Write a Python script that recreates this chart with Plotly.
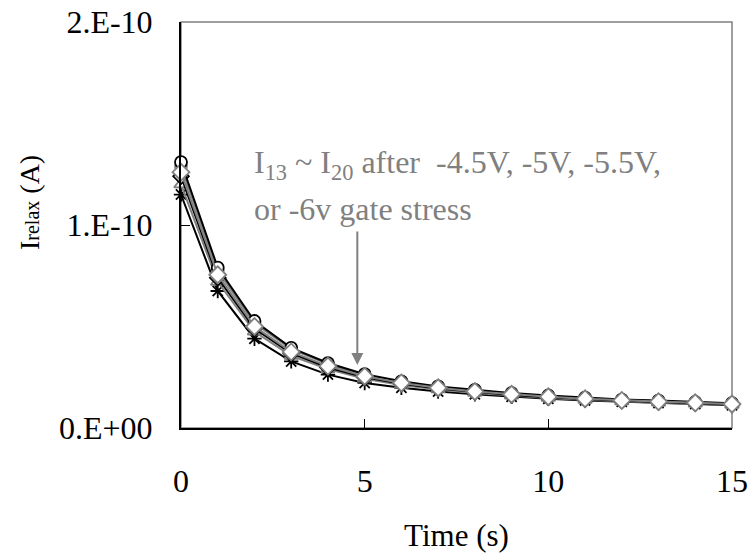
import plotly.graph_objects as go

# Time (s)
time_s = list(range(16))

# Relaxation currents, in units of 1e-10 A
i_a = [1.31, 0.79, 0.527, 0.395, 0.32, 0.265, 0.23, 0.205, 0.188, 0.172, 0.16, 0.15, 0.14, 0.135, 0.128, 0.122]
i_b = [1.29, 0.775, 0.515, 0.388, 0.315, 0.26, 0.226, 0.202, 0.185, 0.17, 0.157, 0.147, 0.138, 0.132, 0.126, 0.12]
i_c = [1.26, 0.755, 0.50, 0.375, 0.305, 0.255, 0.222, 0.198, 0.18, 0.166, 0.154, 0.144, 0.136, 0.13, 0.124, 0.118]
i_d = [1.24, 0.74, 0.49, 0.368, 0.298, 0.25, 0.218, 0.195, 0.178, 0.163, 0.152, 0.142, 0.134, 0.128, 0.122, 0.116]
i_e = [1.20, 0.72, 0.475, 0.355, 0.29, 0.243, 0.212, 0.19, 0.173, 0.16, 0.148, 0.139, 0.131, 0.125, 0.12, 0.114]
i_f = [1.15, 0.675, 0.44, 0.328, 0.263, 0.222, 0.198, 0.18, 0.166, 0.154, 0.144, 0.136, 0.129, 0.123, 0.118, 0.112]

y_tickvals = [0, 1, 2]
y_ticktext = ["0.E+00", "1.E-10", "2.E-10"]
x_tickvals = [0, 5, 10, 15]

BLACK = "#000000"
GRAY = "#808080"
FONT = "'Liberation Serif', 'Times New Roman', Times, serif"

series = [
    (i_f, BLACK, "asterisk-open", 12),
    (i_e, GRAY, "triangle-up", 12),
    (i_d, BLACK, "diamond", 12),
    (i_b, GRAY, "circle", 12),
    (i_a, BLACK, "circle", 12),
    (i_c, GRAY, "diamond", 13),
]

fig = go.Figure()
for vals, col, sym, sz in series:
    fig.add_trace(go.Scatter(
        x=time_s, y=vals, mode="lines+markers",
        line=dict(color=col, width=2),
        marker=dict(symbol=sym, size=sz, color="white" if "open" not in sym else col,
                    line=dict(color=col, width=1.8)),
        showlegend=False, hoverinfo="skip", cliponaxis=False,
    ))

fig.update_layout(
    width=753, height=558,
    margin=dict(l=181, r=21, t=22, b=130, autoexpand=False),
    paper_bgcolor="white", plot_bgcolor="white",
    font=dict(family=FONT, size=31, color="black"),
    showlegend=False,
    shapes=[dict(type="rect", xref="paper", yref="paper", x0=0, y0=0, x1=1, y1=1,
                 line=dict(color=GRAY, width=1.5), layer="below")],
)

fig.update_xaxes(
    range=[0, 15], tickvals=x_tickvals, ticks="inside", ticklen=9, tickwidth=1.2,
    tickcolor=BLACK, showline=True, linecolor=BLACK, linewidth=2, showgrid=False,
    zeroline=False, ticklabelstandoff=24, automargin=False,
    tickfont=dict(family=FONT, size=32),
    title=dict(text="Time (s)", font=dict(family=FONT, size=31), standoff=26),
)
fig.update_yaxes(
    range=[0, 2], tickvals=y_tickvals, ticktext=y_ticktext, ticks="inside", ticklen=9,
    tickwidth=1.2, tickcolor=BLACK, showline=True, linecolor=BLACK, linewidth=2,
    showgrid=False, zeroline=False, ticklabelstandoff=20, automargin=False,
    tickfont=dict(family=FONT, size=32),
)

# y-axis title
fig.add_annotation(
    xref="paper", yref="paper", x=(30 - 181) / 551, y=(428 - 203) / 406,
    xanchor="center", yanchor="middle", showarrow=False, textangle=-90,
    text="I<span style='font-size:20px'>relax</span> (A)",
    font=dict(family=FONT, size=28, color=BLACK),
)

fig.add_annotation(
    xref="paper", yref="paper", x=(252 - 181) / 551, y=(428 - 165) / 406,
    xanchor="left", yanchor="middle", showarrow=False,
    text="I<sub>13</sub> ~ I<sub>20</sub> after \u00a0-4.5V, -5V, -5.5V,",
    font=dict(family=FONT, size=32, color=GRAY),
)
fig.add_annotation(
    xref="paper", yref="paper", x=(252 - 181) / 551, y=(428 - 209) / 406,
    xanchor="left", yanchor="middle", showarrow=False,
    text="or -6v gate stress",
    font=dict(family=FONT, size=32, color=GRAY),
)
fig.add_annotation(
    x=4.8, y=0.31, xref="x", yref="y", text="", showarrow=True,
    ax=0, ay=-135, arrowcolor=GRAY, arrowwidth=2, arrowhead=2, arrowsize=1.2, standoff=0,
)

fig.write_html("out.html")
